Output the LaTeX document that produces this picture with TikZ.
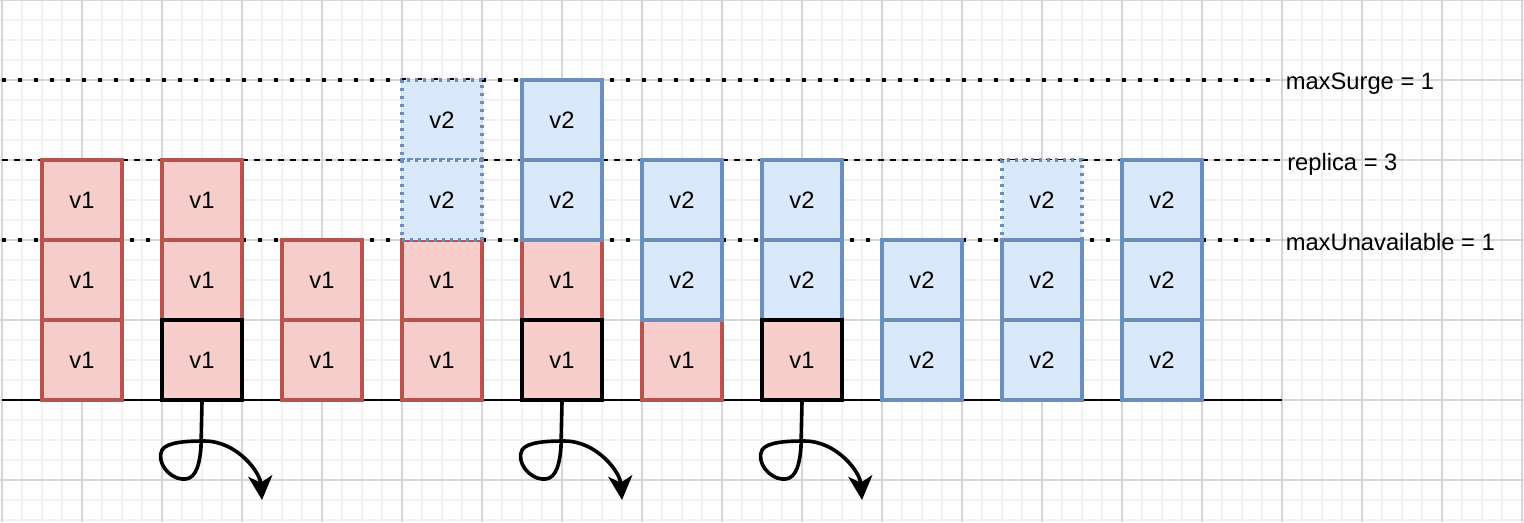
\documentclass[tikz,border=0pt]{standalone}
\usepackage{fontspec}
\setmainfont{Liberation Sans}
\usetikzlibrary{arrows.meta}
\definecolor{redfill}{HTML}{F8CECC}
\definecolor{redline}{HTML}{B85450}
\definecolor{bluefill}{HTML}{DAE8FC}
\definecolor{blueline}{HTML}{6C8EBF}
\definecolor{gridminor}{HTML}{F1F1F1}
\definecolor{gridmajor}{HTML}{D6D6D6}
\begin{document}
\begin{tikzpicture}[x=0.75pt,y=-0.75pt,
  txt/.style={font=\fontsize{17.8}{21}\selectfont, text=black, inner sep=0pt},
  podbox/.style={txt, minimum width=60pt, minimum height=60pt, line width=3pt, fill=redfill, draw=redline},
  oldpod/.style={podbox},
  goingpod/.style={podbox, draw=black},
  newpod/.style={podbox, fill=bluefill, draw=blueline},
  surgepod/.style={podbox, fill=bluefill, draw=blueline, line width=2.4pt, dash pattern=on 2.25pt off 3.75pt},
  minorgrid/.style={draw=gridminor, line width=1.1pt},
  majorgrid/.style={draw=gridmajor, line width=1pt},
  dotline/.style={draw=black, line width=3pt, dash pattern=on 3pt off 9pt},
  dashline/.style={draw=black, line width=1.5pt, dash pattern=on 4.5pt off 4.5pt},
  baseline/.style={draw=black, line width=1.5pt},
  curlarrow/.style={draw=black, line width=2.7pt, line join=round, -{Stealth[length=18pt,width=18pt,inset=5pt]}},
  lbl/.style={txt, anchor=base west}
]
\useasboundingbox (0,0) rectangle (1524,522);
\fill[white] (0,0) rectangle (1524,522);
% grid
\foreach \x in {2,22,...,1522} \draw[minorgrid] (\x,0) -- (\x,522);
\foreach \y in {0,20,...,520} \draw[minorgrid] (0,\y) -- (1524,\y);
\foreach \x in {2,82,...,1522} \draw[majorgrid] (\x,0) -- (\x,522);
\foreach \y in {0,80,...,480} \draw[majorgrid] (0,\y) -- (1524,\y);
% reference lines
\coordinate (msA) at (2,80);    \coordinate (msB) at (1282,80);
\coordinate (rpA) at (2,160);   \coordinate (rpB) at (1282,160);
\coordinate (muA) at (2,240);   \coordinate (muB) at (1282,240);
\coordinate (blA) at (2,400);   \coordinate (blB) at (1282,400);
\draw[dotline] (msA) -- (msB);
\draw[dashline] (rpA) -- (rpB);
\draw[dotline] (muA) -- (muB);
\draw[baseline] (blA) -- (blB);
% labels
\node[lbl] (lms) at (1285.5,89.5) {maxSurge = 1};
\node[lbl] (lrp) at (1287,170.5) {replica = 3};
\node[lbl] (lmu) at (1285.5,250.5) {maxUnavailable = 1};
% old v1 pods
\node[oldpod] (c0r2) at (82,200) {v1};
\node[oldpod] (c0r3) at (82,280) {v1};
\node[oldpod] (c0r4) at (82,360) {v1};
\node[oldpod] (c1r2) at (202,200) {v1};
\node[oldpod] (c1r3) at (202,280) {v1};
\node[oldpod] (c2r3) at (322,280) {v1};
\node[oldpod] (c2r4) at (322,360) {v1};
\node[oldpod] (c3r3) at (442,280) {v1};
\node[oldpod] (c3r4) at (442,360) {v1};
\node[oldpod] (c4r3) at (562,280) {v1};
\node[oldpod] (c5r4) at (682,360) {v1};
% surge (pending) v2 pods
\node[surgepod] (c3r1) at (442,120) {v2};
\node[surgepod] (c3r2) at (442,200) {v2};
\node[surgepod] (c8r2) at (1042,200) {v2};
% running v2 pods
\node[newpod] (c4r1) at (562,120) {v2};
\node[newpod] (c4r2) at (562,200) {v2};
\node[newpod] (c5r2) at (682,200) {v2};
\node[newpod] (c5r3) at (682,280) {v2};
\node[newpod] (c6r2) at (802,200) {v2};
\node[newpod] (c6r3) at (802,280) {v2};
\node[newpod] (c7r3) at (922,280) {v2};
\node[newpod] (c7r4) at (922,360) {v2};
\node[newpod] (c8r3) at (1042,280) {v2};
\node[newpod] (c8r4) at (1042,360) {v2};
\node[newpod] (c9r2) at (1162,200) {v2};
\node[newpod] (c9r3) at (1162,280) {v2};
\node[newpod] (c9r4) at (1162,360) {v2};
% terminating v1 pods
\node[goingpod] (c1r4) at (202,360) {v1};
\node[goingpod] (c4r4) at (562,360) {v1};
\node[goingpod] (c6r4) at (802,360) {v1};
% curly arrows
\foreach \n in {c1r4,c4r4,c6r4} {
  \begin{scope}[shift={(\n.south)}]
    \draw[curlarrow] (\n.south) -- (-1,45)
      .. controls (-3,70) and (-9,78) .. (-20,77)
      .. controls (-33,76) and (-46,60) .. (-40,48)
      .. controls (-35,40) and (-15,39) .. (2,39)
      .. controls (35,39) and (58,70) .. (60,98);
  \end{scope}
}
\end{tikzpicture}
\end{document}
